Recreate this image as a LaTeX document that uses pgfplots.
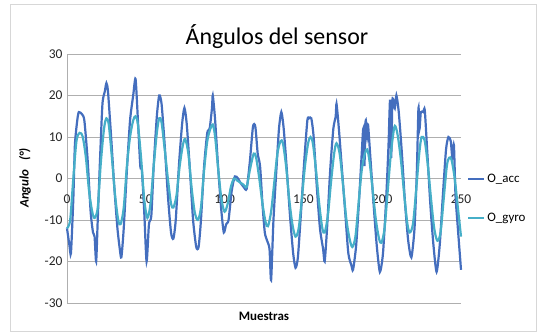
\documentclass[border=0pt]{standalone}
\usepackage{pgfplots}
\pgfplotsset{compat=1.18}
\usepackage{fontspec}
\setmainfont{Carlito}
\definecolor{acc}{RGB}{68,110,190}
\definecolor{gyro}{RGB}{70,175,200}
\definecolor{gridc}{RGB}{175,175,175}
\begin{document}
\begin{tikzpicture}[x=1bp,y=1bp]
\path[use as bounding box] (0,0) rectangle (537,333);
\draw[line width=1bp, draw={rgb,255:red,215;green,215;blue,215}] (10,1.5) rectangle (536,328);
\begin{axis}[
  at={(67bp,30bp)}, anchor=south west,
  scale only axis, width=394bp, height=249bp,
  xmin=0, xmax=250, ymin=-30, ymax=30,
  axis lines=left,
  axis line style={-, draw=gridc, line width=0.8bp},
  x axis line style={draw=none},
  xtick={0,50,...,250}, ytick={-30,-20,...,30},
  major tick length=0pt,
  ymajorgrids, grid style={draw=gridc, line width=0.8bp},
  tick label style={font=\fontsize{13.5}{13.5}\selectfont, text=black!85},
  /pgf/number format/assume math mode=true,
  xticklabel style={yshift=111.5bp},
  yticklabel style={xshift=-1bp},
  clip=false,
  legend style={at={(axis description cs:1.015,0.42)}, anchor=west, draw=none, fill=none,
    inner sep=0pt, row sep=25bp, font=\fontsize{13}{13}\selectfont,
    /tikz/every even column/.append style={column sep=2bp}},
  legend cell align=left,
  legend image code/.code={\draw[#1, line width=2.3bp] (0bp,0bp) -- (16bp,0bp);},
]
\addplot[acc, line width=2.2bp, smooth, tension=0.4] coordinates {
(0,-12) (1.5,-16) (2.5,-18) (4,-5) (5,8) (6.5,14) (7.5,16) (9.5,15.5) (11,14) (13,5) (15,-8) (16.5,-13) (17.5,-14) (18.5,-20) (19.5,-10) (21,5) (22.5,18) (24,21) (25,23) (26,21) (28,10) (30,-2) (32,-12) (33.5,-17) (34.5,-19) (36,-12) (38,2) (40,14) (42,20) (43.5,24) (45,14) (46.5,3) (47.5,2) (49,-8) (50.5,-20) (52,-11) (53.5,-9) (55,3) (57,15) (58.5,20) (60,18) (62,8) (64,-4) (66,-13) (67.5,-14.5) (69,-10) (71,3) (73,13) (74.5,17) (76,13) (78,2) (80,-10) (82,-16.5) (83.5,-16.5) (85,-10) (87,3) (89,11) (90.5,12) (92,17) (92.5,20) (94,14) (96,2) (98,-8) (99.5,-13) (101,-11) (102.5,-10) (104.5,-3) (106.5,0.5) (108.5,0) (110,-1) (112,-2) (114,-2.5) (116,4) (118,12.5) (119.5,12.5) (121,6) (122.5,3) (124,-6) (125.5,-13) (127,-15) (128.5,-17) (129.5,-24.5) (131,-10) (133,3) (134.5,12) (136,16) (137.5,12) (139.5,2) (141.5,-9) (143.5,-18) (145,-21.5) (146.5,-19) (148.5,-8) (150.5,4) (152.5,14) (153.5,14.5) (155,14.5) (156.5,10) (158.5,-2) (160.5,-12) (162.5,-17) (163.5,-20) (165,-12) (167,2) (169,12) (170.5,15) (171,18) (172.5,12) (174.5,2) (176.5,-8) (178.5,-18) (180.5,-21) (181.5,-22) (183.5,-16) (185.5,-4) (187,6) (188,12) (188.7,3) (189.5,14) (190.5,10) (191,13) (192.5,5) (194.5,-6) (196.5,-16) (198.5,-22.5) (200.5,-18) (202.5,-5) (204,8) (205,19) (205.7,5) (206.5,19) (208,17) (209,20) (210.5,16) (212.5,6) (214.5,-6) (216.5,-15) (218.5,-19) (220.5,-12) (222,2) (223,17) (223.7,12) (224.5,16) (226,16) (227,16.5) (228.5,7) (230.5,-6) (232.5,-16) (234.5,-22.5) (236.5,-16) (238.5,-4) (240.5,7) (242,10) (243.5,9) (244.5,5) (245.5,8) (246.5,-4) (248,-12) (250,-22)
};
\addlegendentry{O\_acc}
\addplot[gyro, line width=2.2bp, smooth, tension=0.5] coordinates {
(0,-12) (2,-10) (4,0) (6,9) (8,11) (10,10) (12,5) (14,-3) (16,-8) (17.5,-9.5) (19.5,-7) (21.5,4) (23.5,12) (25,14.5) (26.5,13) (28.5,5) (30.5,-4) (32.5,-10) (34,-11) (36,-7) (38,3) (40,10) (42,14) (43.5,15) (45,13) (47,5) (49,-5) (51,-9.5) (53,-6) (55,3) (57,11) (58.5,14.5) (60,13.5) (62,7) (64,0) (66,-6) (67.5,-7) (69.5,-4) (71.5,3) (73.5,8) (75,9.5) (77,6) (79,-2) (81,-8) (83,-10) (85,-7) (87,2) (89,9) (91,12) (92.5,13) (94,10) (96,2) (98,-5) (100,-8) (102,-6) (104,-2) (106,0) (108,-0.5) (110,-1) (112,-1.5) (114,-2) (116,2) (118.5,6) (120,5) (122,0) (124,-6) (126,-10.5) (127.5,-11.5) (129.5,-8) (131.5,-1) (133.5,6) (135.5,9) (137,8.5) (139,3) (141,-5) (143,-11) (145,-14) (147,-12) (149,-5) (151,3) (153,8.5) (154.5,10) (156,8.5) (158,2) (160,-6) (162,-12) (163.5,-13) (165.5,-9) (167.5,-1) (169.5,6) (171,8.5) (173,6) (175,-1) (177,-9) (179,-14) (181,-16.5) (183,-14) (185,-6) (187,2) (189,6) (190.5,7) (192,4) (194,-3) (196,-10) (198,-14.5) (199.5,-15.5) (201.5,-12) (203.5,-3) (205.5,6) (207.5,12) (208.5,12.5) (210,10) (212,4) (214,-4) (216,-11) (217.5,-13) (219.5,-11) (221.5,-3) (223.5,6) (225,10) (227,9) (229,3) (231,-5) (233,-12) (235,-15) (237,-13) (239,-5) (241,3) (242.5,5) (244,4.5) (246,0) (248,-7) (250,-14)
};
\addlegendentry{O\_gyro}
\end{axis}
\node[font=\fontsize{24}{24}\selectfont] at (277,296) {Ángulos del sensor};
\node[font=\bfseries\fontsize{13}{13}\selectfont] at (264,17) {Muestras};
\node[font=\bfseries\itshape\fontsize{13}{13}\selectfont, rotate=90] at (25,155) {Angulo\ \ \ (°)};
\end{tikzpicture}
\end{document}
